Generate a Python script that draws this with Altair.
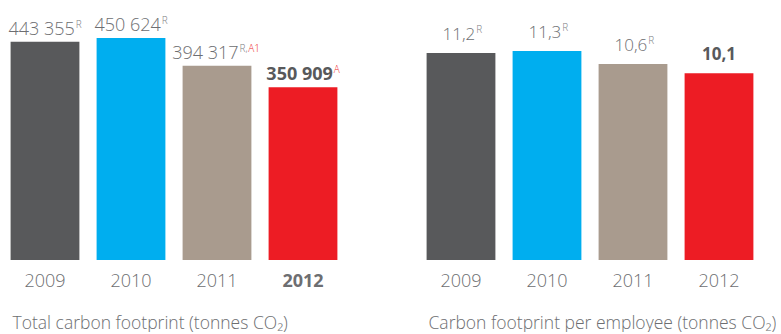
import altair as alt
import pandas as pd

years = ["2009", "2010", "2011", "2012"]
colors = ["#58595b", "#00aeef", "#a99b8e", "#ed1c24"]

total_values = [443355, 450624, 394317, 350909]
total_labels = ["443 355", "450 624", "394 317", "350 909"]
total_sup_r = ["R", "R", "R,", ""]
total_sup_a = ["", "", "A1", "A"]
total_bold = [False, False, False, True]

emp_values = [11.2, 11.3, 10.6, 10.1]
emp_labels = ["11,2", "11,3", "10,6", "10,1"]
emp_sup_r = ["R", "R", "R", ""]
emp_sup_a = ["", "", "", ""]
emp_bold = [False, False, False, True]

FONT = "Open Sans"
GRAY = "#6d6e71"
DARK = "#58595b"
RED = "#ed1c24"
HALF_BAND = 34.4


def panel(values, labels, sup_r, sup_a, bold, title, ymax, gap, fsize, charw, bold_year):
    df = pd.DataFrame({
        "year": years, "value": values, "label": labels,
        "supr": sup_r, "supa": sup_a, "bold": bold,
    })
    x = alt.X("year:N", sort=years,
              scale=alt.Scale(paddingInner=0.2, paddingOuter=0.1),
              axis=alt.Axis(
                  title=title, domain=False, ticks=False, labelAngle=0,
                  labelFont=FONT, labelFontSize=18, labelColor=GRAY,
                  labelFontWeight={"expr": "datum.value == '2012' ? 'bold' : 300"} if bold_year else 300,
                  labelPadding=12,
                  titleFont=FONT, titleFontSize=17.5, titleColor=GRAY,
                  titleFontWeight=300, titleAnchor="start", titleAlign="left",
                  titleX=10, titleY=68, titleBaseline="alphabetic"))
    y = alt.Y("value:Q", scale=alt.Scale(domain=[0, ymax]), axis=None)
    base = alt.Chart(df).transform_calculate(
        e=f"{HALF_BAND} + length(datum.label)*{charw}/2 - (length(datum.supr)+length(datum.supa))*5.5/2"
    ).transform_calculate(
        e1="datum.e + 1",
        e2="datum.e + 1 + length(datum.supr)*4.3",
    )
    bars = base.mark_bar().encode(
        x=x, y=y,
        color=alt.Color("year:N", scale=alt.Scale(domain=years, range=colors), legend=None),
    )
    main = base.transform_filter("!datum.bold").mark_text(
        align="right", baseline="alphabetic", dy=-gap, font=FONT, fontSize=fsize, color=GRAY,
        fontWeight=300
    ).encode(x=x, y=y, text="label:N", xOffset=alt.XOffset("e:Q", scale=None))
    main_b = base.transform_filter("datum.bold").mark_text(
        align="right", baseline="alphabetic", dy=-gap, font=FONT, fontSize=fsize, color=DARK,
        fontWeight="bold"
    ).encode(x=x, y=y, text="label:N", xOffset=alt.XOffset("e:Q", scale=None))
    supr = base.mark_text(align="left", baseline="alphabetic", dy=-gap - 7, font=FONT, fontSize=10,
                          color="#808285", fontWeight=300).encode(
        x=x, y=y, text="supr:N",
        xOffset=alt.XOffset("e1:Q", scale=None),
    )
    supa = base.mark_text(align="left", baseline="alphabetic", dy=-gap - 7, font=FONT, fontSize=10,
                          color=RED, fontWeight=300).encode(
        x=x, y=y, text="supa:N",
        xOffset=alt.XOffset("e2:Q", scale=None),
    )
    return alt.layer(bars, main, main_b, supr, supa).properties(width=344, height=255)


left = panel(total_values, total_labels, total_sup_r, total_sup_a, total_bold,
             "Total carbon footprint (tonnes CO₂)", 517900, 7, 18, 9.3, True)
right = panel(emp_values, emp_labels, emp_sup_r, emp_sup_a, emp_bold,
              "Carbon footprint per employee (tonnes CO₂)", 13.79, 13, 17, 8.5, False)

chart = alt.hconcat(left, right, spacing=72).properties(
    padding={"left": 2, "top": 5, "right": 0, "bottom": 0},
    background="white",
).configure_view(stroke=None)

chart.save("out.html", embed_options={"renderer": "svg", "actions": False})
